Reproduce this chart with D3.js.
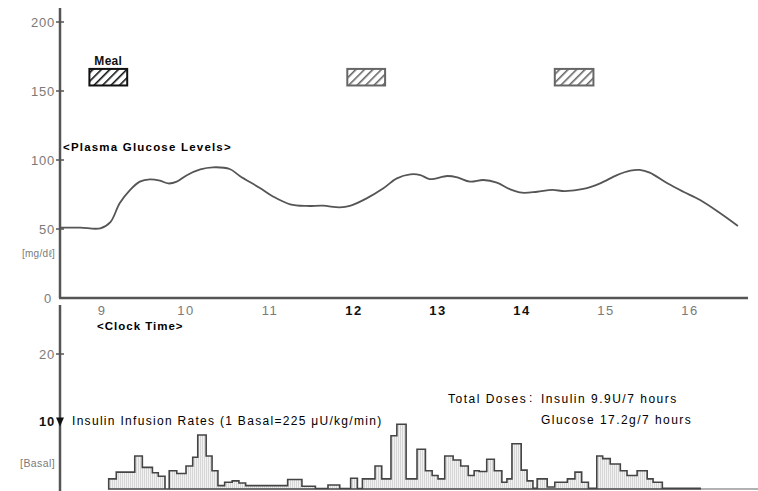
<!DOCTYPE html>
<html><head><meta charset="utf-8">
<script src="https://cdn.jsdelivr.net/npm/d3@7"></script>
<style>body{margin:0;background:#fff}svg{display:block}text{font-family:"Liberation Sans",Arial,sans-serif}</style>
</head><body><svg id="c" width="758" height="491"></svg>
<script>
// ---- data ----
const glucoseTime = [8.50,8.74,8.98,9.10,9.21,9.33,9.45,9.57,9.69,9.79,9.89,10.01,10.17,10.32,10.52,10.64,10.88,11.04,11.24,11.44,11.63,11.83,11.95,12.15,12.35,12.51,12.67,12.79,12.90,13.11,13.23,13.38,13.54,13.70,13.86,14.00,14.18,14.36,14.51,14.73,14.93,15.13,15.29,15.40,15.52,15.73,15.92,16.12,16.36,16.57];
const glucoseValue = [51,51,50.5,55,68.6,78,84.3,86,85,83,84.3,89,93.2,94.7,93.5,88.4,79.7,73.4,67.9,66.7,66.9,65.7,66.7,72.2,79.5,86.7,89.6,89.1,86.2,88.4,87.4,84.3,85.5,83.6,78.7,76.3,77,78.3,77.5,79,83.1,89.1,92.3,92.8,90.8,83.1,77,71,61.4,52.2];
const mealStart = [8.85, 11.92, 14.39];
const mealEnd   = [9.30, 12.37, 14.85];
const insulinStart = [9.08,9.17,9.39,9.48,9.60,9.67,9.75,9.80,9.89,10.0,10.08,10.14,10.24,10.31,10.38,10.46,10.55,10.63,10.71,11.21,11.38,11.54,11.69,11.83,11.96,12.04,12.10,12.25,12.33,12.44,12.51,12.62,12.75,12.85,12.93,13.0,13.08,13.18,13.27,13.36,13.43,13.49,13.58,13.67,13.76,13.82,13.88,13.99,14.06,14.13,14.18,14.30,14.39,14.54,14.63,14.71,14.79,14.89,14.96,15.05,15.17,15.25,15.37,15.49,15.56,15.67];
const insulinEnd = 16.12;
const insulinRate = [1.5,2.5,4.9,3.2,2.4,1.9,0,2.7,2.3,3.4,4.7,8.0,4.9,2.7,0.5,1.0,1.2,0.9,0.5,1.4,0.4,0.05,0.6,0.05,1.6,0.05,1.5,3.4,1.5,7.9,9.6,1.5,5.9,2.7,2.0,1.5,4.9,4.3,3.4,2.0,2.7,2.6,4.4,2.7,1.0,1.5,6.7,2.8,1.2,0.1,1.5,0.3,1.0,1.5,2.5,1.0,0.1,4.9,4.5,3.7,2.7,2.0,2.7,1.5,1.0,0.1];
const hourTicks = [9,10,11,12,13,14,15,16];
const boldHours = [12,13,14];
const glucoseTicks = [0,50,100,150,200];
const insulinTicks = [10,20];

// ---- drawing ----
const svg = d3.select("#c");
const x = d3.scaleLinear().domain([8.5, 16.69]).range([60, 748]);
const yG = d3.scaleLinear().domain([0, 200]).range([298, 22]);
const yI = d3.scaleLinear().domain([0, 20]).range([489, 354]);
const axisCol = "#555", grayTxt = "#7a7a7a";

const defs = svg.append("defs");
const hatch = (id, col) => {
  const p = defs.append("pattern").attr("id", id).attr("patternUnits", "userSpaceOnUse")
    .attr("width", 6).attr("height", 6).attr("patternTransform", "rotate(45)");
  p.append("rect").attr("width", 6).attr("height", 6).attr("fill", "#fff");
  p.append("line").attr("x1", 0).attr("y1", 0).attr("x2", 0).attr("y2", 6)
    .attr("stroke", col).attr("stroke-width", 3.2);
};
hatch("h1", "#111"); hatch("h2", "#666");
const vp = defs.append("pattern").attr("id", "vs").attr("patternUnits", "userSpaceOnUse").attr("width", 2).attr("height", 4);
vp.append("rect").attr("width", 2).attr("height", 4).attr("fill", "#f2f2f2");
vp.append("rect").attr("width", 1).attr("height", 4).attr("fill", "#d6d6d6");

// histogram
const steps = insulinStart.map((t, i) => ({t, v: insulinRate[i]}));
steps.push({t: insulinEnd, v: insulinRate[insulinRate.length - 1]});
svg.append("line").attr("x1", x(insulinEnd)).attr("x2", 758).attr("y1", yI(0)).attr("y2", yI(0))
  .attr("stroke", "#999").attr("stroke-width", 1.5);
svg.append("path").datum(steps)
  .attr("d", d3.area().curve(d3.curveStepAfter).x(d => x(d.t)).y0(yI(0)).y1(d => yI(d.v)))
  .attr("fill", "url(#vs)").attr("stroke", "#444").attr("stroke-width", 1.6);

// axes lines
svg.append("line").attr("x1", 60).attr("x2", 60).attr("y1", 8).attr("y2", 298).attr("stroke", axisCol).attr("stroke-width", 2.5);
svg.append("line").attr("x1", 59).attr("x2", 748).attr("y1", 298).attr("y2", 298).attr("stroke", axisCol).attr("stroke-width", 2.5);
svg.append("line").attr("x1", 60).attr("x2", 60).attr("y1", 305).attr("y2", 491).attr("stroke", axisCol).attr("stroke-width", 2.5);

// glucose y ticks
const gy = svg.append("g");
glucoseTicks.forEach(v => {
  if (v > 0) gy.append("line").attr("x1", 56).attr("x2", 64).attr("y1", yG(v)).attr("y2", yG(v)).attr("stroke", axisCol).attr("stroke-width", 1.5);
  gy.append("text").attr("x", v === 0 ? 52 : 55).attr("y", yG(v)).attr("dy", "0.35em").attr("text-anchor", "end")
    .attr("font-size", 13).attr("fill", grayTxt).attr("letter-spacing", 0.8).text(v);
});
// insulin y ticks
insulinTicks.forEach(v => {
  const bold = v === 10;
  svg.append("text").attr("x", 55).attr("y", yI(v)).attr("dy", "0.35em").attr("text-anchor", "end")
    .attr("font-size", 13).attr("font-weight", bold ? "bold" : "normal").attr("fill", bold ? "#111" : grayTxt)
    .attr("letter-spacing", 0.8).text(v);
  if (bold) {
    svg.append("path").attr("d", `M56,${yI(v)-4} L64,${yI(v)-4} L60,${yI(v)+5} Z`).attr("fill", "#111");
  } else {
    svg.append("line").attr("x1", 56).attr("x2", 64).attr("y1", yI(v)).attr("y2", yI(v)).attr("stroke", axisCol).attr("stroke-width", 1.5);
  }
});

// x tick labels
hourTicks.forEach(h => {
  const b = boldHours.includes(h);
  svg.append("text").attr("x", x(h)).attr("y", 315).attr("text-anchor", "middle")
    .attr("font-size", 13).attr("font-weight", b ? "bold" : "normal").attr("fill", b ? "#111" : grayTxt)
    .attr("letter-spacing", 1.5).text(h);
});

// glucose curve
svg.append("path").datum(glucoseTime.map((t, i) => [t, glucoseValue[i]]))
  .attr("d", d3.line().curve(d3.curveCatmullRom.alpha(0.5)).x(d => x(d[0])).y(d => yG(d[1])))
  .attr("fill", "none").attr("stroke", "#555").attr("stroke-width", 1.8);

// meals
mealStart.forEach((s, i) => {
  svg.append("rect").attr("x", x(s)).attr("width", x(mealEnd[i]) - x(s))
    .attr("y", yG(166)).attr("height", yG(154) - yG(166))
    .attr("fill", i === 0 ? "url(#h1)" : "url(#h2)")
    .attr("stroke", i === 0 ? "#111" : "#666").attr("stroke-width", 2);
});
svg.append("text").attr("x", (x(mealStart[0]) + x(mealEnd[0])) / 2).attr("y", 65).attr("text-anchor", "middle")
  .attr("font-size", 12).attr("font-weight", "bold").attr("fill", "#111").attr("letter-spacing", 0.3).text("Meal");

// labels
const lab = (t, xx, yy, o = {}) => svg.append("text").attr("x", xx).attr("y", yy)
  .attr("font-size", o.size || 12).attr("font-weight", o.bold ? "bold" : "normal")
  .attr("fill", o.fill || "#000").attr("letter-spacing", o.ls == null ? 0.6 : o.ls)
  .attr("text-anchor", o.anchor || "start").text(t);
lab("<Plasma Glucose Levels>", 63, 151, {bold: true, size: 11.5, ls: 1.2});
lab("[mg/dℓ]", 55, 257, {size: 10, fill: grayTxt, anchor: "end", ls: 0.3});
lab("<Clock Time>", 97, 330, {bold: true, size: 11.5, ls: 1.0});
lab("[Basal]", 55, 467, {size: 10.5, fill: grayTxt, anchor: "end", ls: 0.4});
lab("Insulin Infusion Rates (1 Basal=225 μU/kg/min)", 72, 425, {size: 12, ls: 1.3});
lab("Total Doses", 448, 403, {size: 12, ls: 1.5});
lab(":", 529, 402, {size: 12, ls: 0});
lab("Insulin 9.9U/7 hours", 541, 403, {size: 12, ls: 1.5});
lab("Glucose 17.2g/7 hours", 541, 424, {size: 12, ls: 1.45});
</script></body></html>
